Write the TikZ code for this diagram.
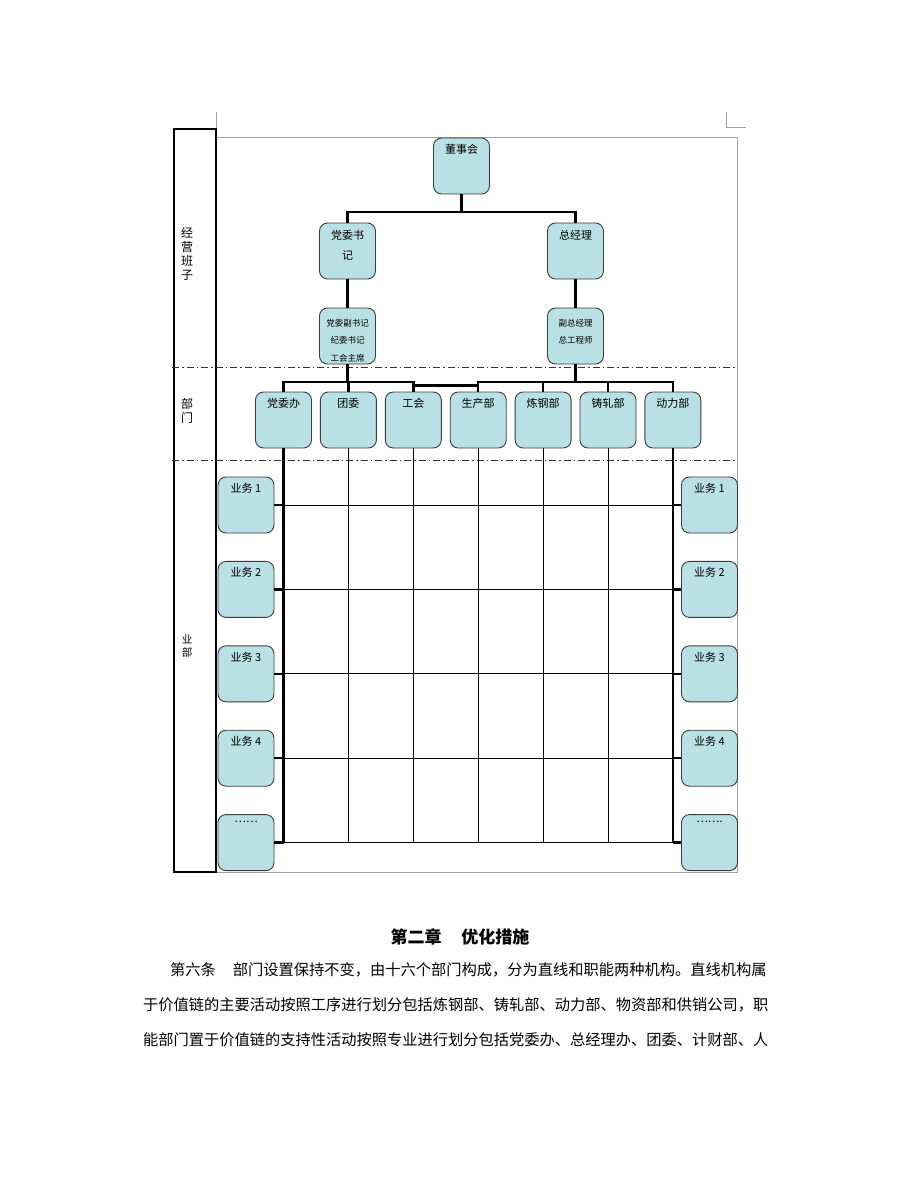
\documentclass[tikz,border=0pt]{standalone}
\usepackage{fontspec}
\setmainfont{Noto Sans CJK SC}
\usetikzlibrary{positioning}
\definecolor{boxfill}{RGB}{185,224,228}
\definecolor{boxline}{RGB}{60,60,60}
\definecolor{framegray}{RGB}{160,160,160}
\tikzstyle{trunk}=[line width=2.4pt]

\begin{document}
\begin{tikzpicture}[x=1pt,y=-1pt]
    \tikzstyle{unit}=[rectangle,rounded corners=8pt,draw=boxline,line width=0.9pt,
    fill=boxfill,minimum width=56pt,minimum height=56pt,inner sep=0pt]
    \tikzstyle{tag}=[anchor=north,yshift=-6.5pt,inner sep=0pt,align=center,
    font=\fontsize{11}{20}\selectfont]
    \tikzstyle{smalltag}=[tag,yshift=-5pt,font=\fontsize{8.5}{17.5}\selectfont]
    \tikzstyle{grid}=[line width=0.8pt]
    \tikzstyle{side}=[align=center,inner sep=0pt,font=\fontsize{12}{14}\selectfont]
    \tikzstyle{sep}=[line width=0.8pt,black!80,dash pattern=on 7pt off 3pt on 1.5pt off 3pt]
    \tikzstyle{head}=[font=\fontsize{17}{17}\selectfont\bfseries]
    \tikzstyle{para}=[anchor=west,inner sep=0pt,font=\fontsize{15.25}{15.25}\selectfont]

    \fill[white] (0,0) rectangle (920,1191);
    \useasboundingbox (0,0) rectangle (920,1191);

    \draw[framegray,line width=0.8pt] (216,137) rectangle (737,872);
    \draw[framegray,line width=0.8pt] (216,112) -- (216,137);
    \draw[framegray,line width=0.8pt] (726,112) -- (726,127) -- (746,127);
    \draw[line width=1.4pt] (174,129) rectangle (216,872);
    \draw[sep] (172,367) -- (737,367);
    \draw[sep] (172,460) -- (737,460);

    \node[side](lbl_jy) at (187,254){经\\营\\班\\子};
    \node[side](lbl_bm) at (187,411){部\\门};
    \node[side,font=\fontsize{10.5}{13}\selectfont](lbl_yw) at (187,646){业\\部};

    \node[unit,label={[tag]north:董事会}](dsh) at (461.5,166){};
    \node[unit,label={[tag,yshift=-1.5pt]north:党委书\\记}](dw_sj) at (347.5,251){};
    \node[unit,label={[tag,yshift=-1.5pt]north:总经理}](zjl) at (575.5,251){};
    \node[unit,label={[smalltag]north:党委副书记\\纪委书记\\工会主席}](dw_fsj) at (347.5,336){};
    \node[unit,label={[smalltag]north:副总经理\\总工程师}](fzjl) at (575.5,336){};

    \node[unit,label={[tag]north:党委办}](d_dwb) at (283.5,420){};
    \node[unit,label={[tag]north:团委}](d_tw)[right=8pt of d_dwb]{};
    \node[unit,label={[tag]north:工会}](d_gh)[right=8pt of d_tw]{};
    \node[unit,label={[tag]north:生产部}](d_scb)[right=8pt of d_gh]{};
    \node[unit,label={[tag]north:炼钢部}](d_lgb)[right=8pt of d_scb]{};
    \node[unit,label={[tag]north:铸轧部}](d_zzb)[right=8pt of d_lgb]{};
    \node[unit,label={[tag]north:动力部}](d_dlb)[right=8pt of d_zzb]{};

    \node[unit,label={[tag]north:业务 1}](yw_l1) at (246,505){};
    \node[unit,label={[tag]north:业务 2}](yw_l2)[below=27.5pt of yw_l1]{};
    \node[unit,label={[tag]north:业务 3}](yw_l3)[below=27.5pt of yw_l2]{};
    \node[unit,label={[tag]north:业务 4}](yw_l4)[below=27.5pt of yw_l3]{};
    \node[unit,label={[tag]north:……}](yw_l5)[below=27.5pt of yw_l4]{};

    \node[unit,label={[tag]north:业务 1}](yw_r1) at (709.5,505){};
    \node[unit,label={[tag]north:业务 2}](yw_r2)[below=27.5pt of yw_r1]{};
    \node[unit,label={[tag]north:业务 3}](yw_r3)[below=27.5pt of yw_r2]{};
    \node[unit,label={[tag]north:业务 4}](yw_r4)[below=27.5pt of yw_r3]{};
    \node[unit,label={[tag]north:…….}](yw_r5)[below=27.5pt of yw_r4]{};

    \coordinate (top_bus) at (461.5,212);
    \coordinate (bus_l) at (347.5,382);
    \coordinate (bus_r) at (575.5,382);
    \coordinate (link_y) at (0,385.5);

    \draw[trunk] (dsh.south) -- (top_bus) -| (dw_sj.north);
    \draw[trunk] (top_bus) -| (zjl.north);
    \draw[trunk] (dw_sj) -- (dw_fsj);
    \draw[trunk] (zjl) -- (fzjl);
    \draw[trunk] (dw_fsj) -- (bus_l);
    \draw[trunk] (fzjl) -- (bus_r);

    \draw[trunk] (d_dwb.north) |- (bus_l) -| (d_gh.north);
    \draw[trunk] (d_tw.north) -- (d_tw.north |- bus_l);
    \draw[trunk] (d_scb.north) |- (bus_r) -| (d_dlb.north);
    \draw[trunk] (d_lgb.north) -- (d_lgb.north |- bus_r);
    \draw[trunk] (d_zzb.north) -- (d_zzb.north |- bus_r);
    \draw[trunk] (d_gh.north |- link_y) -- (d_scb.north |- link_y);

    \draw[grid] (d_tw.south) -- (d_tw.south |- yw_l5);
    \draw[grid] (d_gh.south) -- (d_gh.south |- yw_l5);
    \draw[grid] (d_scb.south) -- (d_scb.south |- yw_l5);
    \draw[grid] (d_lgb.south) -- (d_lgb.south |- yw_l5);
    \draw[grid] (d_zzb.south) -- (d_zzb.south |- yw_l5);

    \draw[grid] (d_dwb.south |- yw_l1) -- (d_dlb.south |- yw_r1);
    \draw[grid] (d_dwb.south |- yw_l2) -- (d_dlb.south |- yw_r2);
    \draw[grid] (d_dwb.south |- yw_l3) -- (d_dlb.south |- yw_r3);
    \draw[grid] (d_dwb.south |- yw_l4) -- (d_dlb.south |- yw_r4);
    \draw[grid] (d_dwb.south |- yw_l5) -- (d_dlb.south |- yw_r5);

    \draw[trunk] (d_dwb.south) -- (d_dwb.south |- yw_l5);
    \draw[trunk] (d_dlb.south) -- (d_dlb.south |- yw_r5);

    \draw[trunk] (yw_l1) -- (d_dwb.south |- yw_l1);
    \draw[trunk] (yw_l2) -- (d_dwb.south |- yw_l2);
    \draw[trunk] (yw_l3) -- (d_dwb.south |- yw_l3);
    \draw[trunk] (yw_l4) -- (d_dwb.south |- yw_l4);
    \draw[trunk] (yw_l5) -- (d_dwb.south |- yw_l5);

    \draw[trunk] (yw_r1) -- (d_dlb.south |- yw_r1);
    \draw[trunk] (yw_r2) -- (d_dlb.south |- yw_r2);
    \draw[trunk] (yw_r3) -- (d_dlb.south |- yw_r3);
    \draw[trunk] (yw_r4) -- (d_dlb.south |- yw_r4);
    \draw[trunk] (yw_r5) -- (d_dlb.south |- yw_r5);

    \node[head](ch_title) at (460,937){第二章\hspace{20pt}优化措施};
    \node[para](p_1) at (170,970){第六条\hspace{17pt}部门设置保持不变，由十六个部门构成，分为直线和职能两种机构。直线机构属};
    \node[para](p_2) at (143,1005){于价值链的主要活动按照工序进行划分包括炼钢部、铸轧部、动力部、物资部和供销公司，职};
    \node[para](p_3) at (143,1040){能部门置于价值链的支持性活动按照专业进行划分包括党委办、总经理办、团委、计财部、人};
\end{tikzpicture}
\end{document}
